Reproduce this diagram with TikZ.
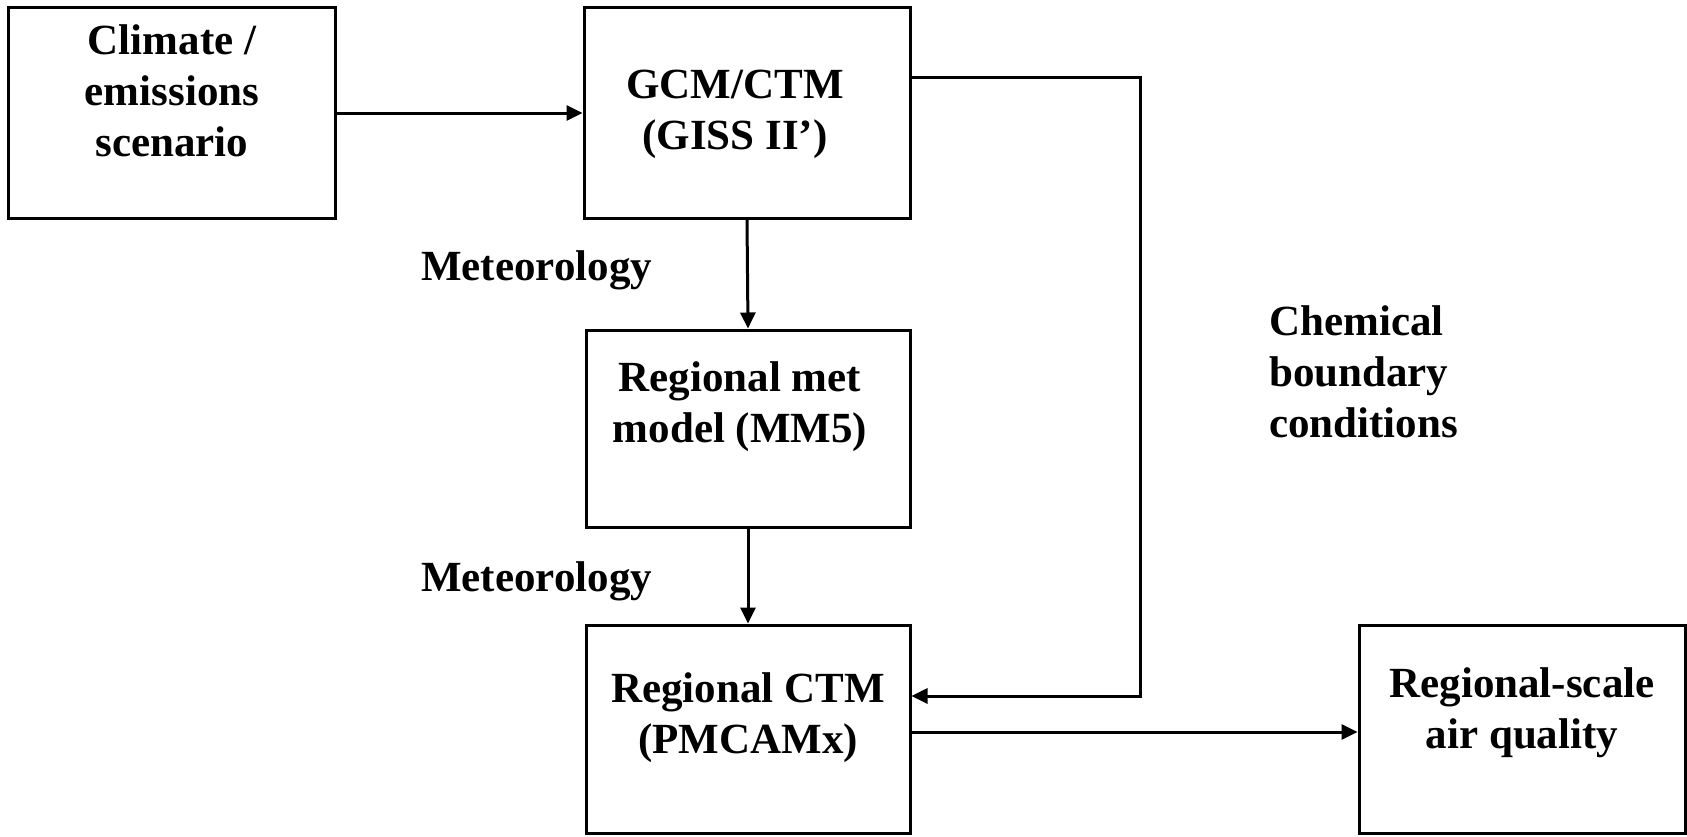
\documentclass[tikz,border=0pt]{standalone}
\usepackage{fontspec}
\setmainfont{Liberation Serif}
\usetikzlibrary{arrows.meta}
\begin{document}
\begin{tikzpicture}[x=1pt,y=-1pt,
  box/.style={draw=black,line width=3pt,minimum width=#1,inner sep=0pt},
  lbl/.style={font=\fontsize{43}{51}\selectfont\bfseries,align=center,inner sep=0pt},
  side/.style={font=\fontsize{43}{51}\selectfont\bfseries,align=left,inner sep=0pt,anchor=west},
  conn/.style={line width=3pt,-{Triangle[length=16pt,width=15pt]}}]
\useasboundingbox (0,0) rectangle (1687,836);
\fill[white] (0,0) rectangle (1687,836);
% boxes
\node[box=327pt,minimum height=211pt] (clim) at (172,113) {};
\node[box=326pt,minimum height=211pt] (gcm) at (747,113) {};
\node[box=324pt,minimum height=197pt] (mm5) at (748,428.5) {};
\node[box=324pt,minimum height=208pt] (ctm) at (748,729) {};
\node[box=326pt,minimum height=208pt] (aq) at (1522,729) {};
% box texts
\node[lbl] (climt) at (172,91) {Climate /\\emissions\\scenario};
\node[lbl] (gcmt) at (735,114) {GCM/CTM\\(GISS II’)};
\node[lbl] (mm5t) at (740,407) {Regional met\\model (MM5)};
\node[lbl] (ctmt) at (748,718) {Regional CTM\\(PMCAMx)};
\node[lbl] (aqt) at (1522,713) {Regional-scale\\air quality};
% side labels
\node[side] (met1) at (421,270) {Meteorology};
\node[side] (met2) at (421,581) {Meteorology};
\node[side] (chem) at (1269,372) {Chemical\\boundary\\conditions};
% connectors
\coordinate (c1) at (1140,77.5);
\coordinate (c2) at (1140,696);
\draw[conn] (clim.east |- 0,113) -- (gcm.west |- 0,113);
\draw[conn] (gcm.south) -- (mm5.north);
\draw[conn] (mm5.south) -- (ctm.north);
\draw[conn] (gcm.east |- c1) -- (c1) -- (c2) -- (ctm.east |- c2);
\draw[conn] (ctm.east |- 0,732) -- (aq.west |- 0,732);
\end{tikzpicture}
\end{document}
